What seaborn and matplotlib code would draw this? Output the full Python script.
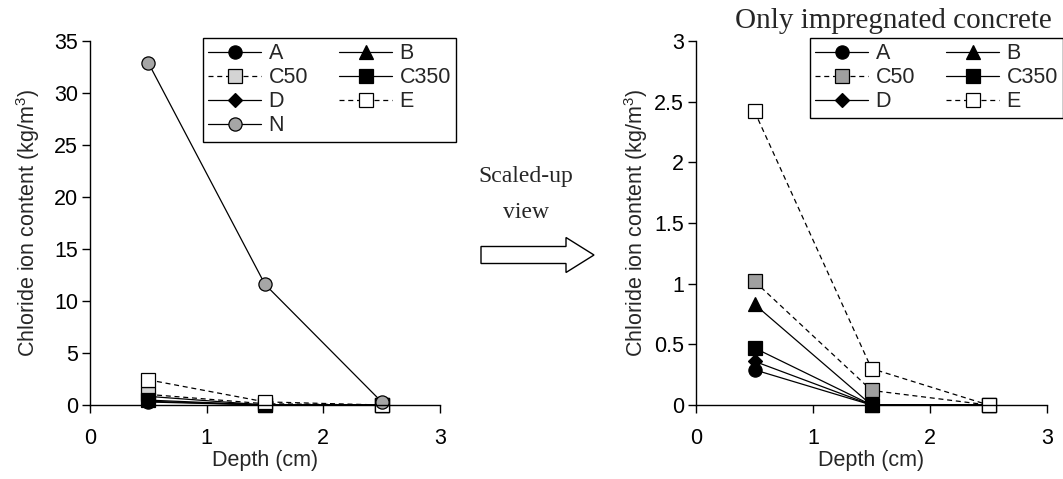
"""
Chloride ion content vs depth, full view and scaled-up view
"""
import numpy as np
import pandas as pd
import matplotlib
matplotlib.use('Agg')
import matplotlib.pyplot as plt
import matplotlib.patches as mpatches
from matplotlib.ticker import FuncFormatter
import seaborn as sns

# data
depth = [0.5, 1.5, 2.5]
series_names = ['A', 'B', 'C50', 'C350', 'D', 'E', 'N']
chloride_A = [0.29, 0.0, 0.0]
chloride_B = [0.83, 0.0, 0.0]
chloride_C50 = [1.02, 0.12, 0.0]
chloride_C350 = [0.47, 0.0, 0.0]
chloride_D = [0.36, 0.0, 0.0]
chloride_E = [2.42, 0.30, 0.0]
chloride_N = [32.9, 11.6, 0.3]

left_yticks = [0, 5, 10, 15, 20, 25, 30, 35]
right_yticks = [0, 0.5, 1, 1.5, 2, 2.5, 3]
xticks = [0, 1, 2, 3]

sns.set_style('ticks')
plt.rcParams['font.family'] = ['Liberation Sans', 'DejaVu Sans']
plt.rcParams['mathtext.fontset'] = 'custom'
plt.rcParams['mathtext.rm'] = 'Liberation Sans'
plt.rcParams['mathtext.it'] = 'Liberation Sans'

FS = 15.5
SERIF = ['Liberation Serif', 'DejaVu Serif']

df = pd.DataFrame({
    'depth': depth * 7,
    'series': np.repeat(series_names, 3),
    'value': chloride_A + chloride_B + chloride_C50 + chloride_C350
    + chloride_D + chloride_E + chloride_N,
})

# marker / line style per series (C50 face differs between panels)
styles = {
    'A': dict(marker='o', ls='-', mfc='black'),
    'B': dict(marker='^', ls='-', mfc='black'),
    'C50': dict(marker='s', ls='--', mfc='#d4d4d4'),
    'C350': dict(marker='s', ls='-', mfc='black'),
    'D': dict(marker='D', ls='-', mfc='black', ms=7.5),
    'E': dict(marker='s', ls='--', mfc='white'),
    'N': dict(marker='o', ls='-', mfc='#a6a6a6'),
}

fig = plt.figure(figsize=(10.63, 4.79), dpi=100)
ax1 = fig.add_axes([90 / 1063, 1 - 405 / 479, 350 / 1063, 364 / 479])
ax2 = fig.add_axes([696 / 1063, 1 - 405 / 479, 351 / 1063, 364 / 479])


def draw_series(ax, names, c50_face):
    handles = {}
    for name in names:
        st = dict(styles[name])
        if name == 'C50':
            st['mfc'] = c50_face
        sub = df[df['series'] == name]
        sns.lineplot(data=sub, x='depth', y='value', ax=ax, color='black',
                     linewidth=0.9, marker=st['marker'],
                     markersize=st.get('ms', 9.5),
                     markerfacecolor=st['mfc'], markeredgecolor='black',
                     markeredgewidth=0.9, label=name, clip_on=False,
                     estimator=None, sort=False)
        line = ax.lines[-1]
        if st['ls'] == '--':
            line.set_linestyle((0, (4, 3)))
        handles[name] = line
    return handles


h1 = draw_series(ax1, series_names, '#d4d4d4')
h2 = draw_series(ax2, series_names[:-1], '#a0a0a0')

fmt = FuncFormatter(lambda v, p: f'{v:g}')
for ax, ymax, yt in [(ax1, 35, left_yticks), (ax2, 3, right_yticks)]:
    ax.set_xlim(0, 3)
    ax.set_ylim(0, ymax)
    ax.set_xticks(xticks)
    ax.set_yticks(yt)
    ax.xaxis.set_major_formatter(fmt)
    ax.yaxis.set_major_formatter(fmt)
    for s in ['top', 'right']:
        ax.spines[s].set_visible(False)
    for s in ['left', 'bottom']:
        ax.spines[s].set_color('black')
        ax.spines[s].set_linewidth(1.0)
    ax.tick_params(axis='both', direction='out', length=5.5, width=1.0,
                   color='black', labelsize=FS, labelcolor='black')
    ax.tick_params(axis='x', pad=11)
    ax.tick_params(axis='y', pad=3)
    ax.set_xlabel('Depth (cm)', fontsize=FS, labelpad=1)
    ax.set_ylabel('Chloride ion content (kg/m$^3$)', fontsize=FS)
    ax.patch.set_alpha(0)

ax1.yaxis.labelpad = 9
ax2.yaxis.labelpad = 3

leg_kw = dict(ncol=2, loc='upper left', fontsize=FS, frameon=True,
              fancybox=False, edgecolor='black', framealpha=1,
              handlelength=2.45, handletextpad=0.35, columnspacing=1.45,
              labelspacing=0.14, borderpad=0.25, borderaxespad=0)
# legend fills column-wise, so order gives rows A B / C50 C350 / D E / N
order1 = ['A', 'C50', 'D', 'N', 'B', 'C350', 'E']
order2 = ['A', 'C50', 'D', 'B', 'C350', 'E']
leg1 = ax1.legend([h1[n] for n in order1], order1,
                  bbox_to_anchor=(203 / 1063, 1 - 38 / 479),
                  bbox_transform=fig.transFigure, **leg_kw)
leg2 = ax2.legend([h2[n] for n in order2], order2,
                  bbox_to_anchor=(810 / 1063, 1 - 38 / 479),
                  bbox_transform=fig.transFigure, **leg_kw)
for leg in (leg1, leg2):
    leg.get_frame().set_linewidth(1.0)
    leg.set_zorder(5)

# title of the scaled-up view
fig.text(893 / 1063, 1 - 21 / 479, 'Only impregnated concrete',
         family=SERIF, fontsize=21, ha='center', va='center')

# arrow with its caption between the panels
fig.text(526 / 1063, 1 - 177 / 479, 'Scaled-up', family=SERIF,
         fontsize=17, ha='center', va='center')
fig.text(526 / 1063, 1 - 213 / 479, 'view', family=SERIF,
         fontsize=17, ha='center', va='center')
arrow = mpatches.FancyArrow(481 / 1063, 1 - 255 / 479, 113 / 1063, 0,
                            width=17 / 479, head_width=35 / 479,
                            head_length=28 / 1063,
                            length_includes_head=True,
                            transform=fig.transFigure,
                            facecolor='white', edgecolor='black',
                            linewidth=1.0)
fig.patches.append(arrow)

plt.savefig('out.png', dpi=100)
plt.close()
